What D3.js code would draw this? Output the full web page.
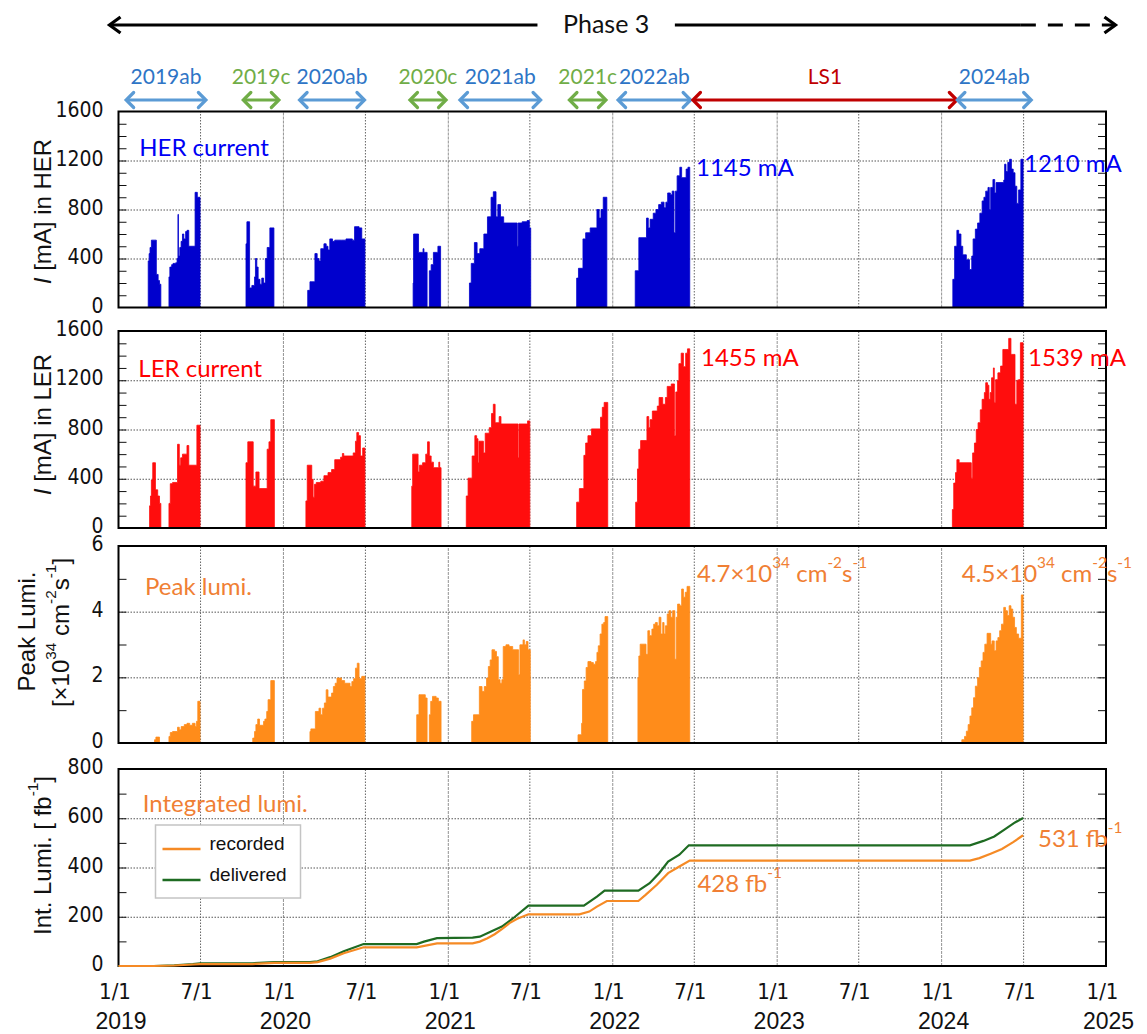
<!DOCTYPE html>
<html>
<head>
<meta charset="utf-8">
<script src="https://cdn.jsdelivr.net/npm/d3@7"></script>
<style>
  body { margin: 0; background: #fff; }
</style>
</head>
<body>
<div id="chart"></div>
<script>
(function () {

  /***** Data *****/
  // step series: [date, value], value holds until the next date
  var herData = [
    ["2019-01-25",0],
    ["2019-03-08",380],["2019-03-10",440],["2019-03-12",490],["2019-03-15",550],["2019-03-26",270],["2019-03-30",220],["2019-04-02",190],["2019-04-05",0],
    ["2019-04-23",250],["2019-04-25",330],["2019-04-29",350],["2019-05-02",360],["2019-05-08",365],["2019-05-11",400],["2019-05-13",760],["2019-05-14",420],["2019-05-17",490],["2019-05-20",540],["2019-05-23",600],["2019-05-26",560],["2019-05-30",620],["2019-06-02",630],["2019-06-06",500],["2019-06-20",940],["2019-06-25",900],["2019-07-01",0],
    ["2019-10-11",520],["2019-10-13",700],["2019-10-19",160],["2019-10-24",180],["2019-10-30",250],["2019-11-01",400],["2019-11-04",330],["2019-11-07",230],["2019-11-11",190],["2019-11-15",240],["2019-11-19",200],["2019-11-23",400],["2019-11-27",490],["2019-12-03",650],["2019-12-12",0],
    ["2020-02-25",140],["2020-03-01",210],["2020-03-12",440],["2020-03-17",400],["2020-03-21",380],["2020-03-25",480],["2020-04-01",520],["2020-04-06",500],["2020-04-10",470],["2020-04-14",560],["2020-04-20",540],["2020-04-25",550],["2020-05-10",550],["2020-05-20",560],["2020-06-03",550],["2020-06-08",660],["2020-06-18",650],["2020-06-24",560],["2020-07-01",0],
    ["2020-10-16",200],["2020-10-17",600],["2020-10-28",450],["2020-11-07",480],["2020-11-09",450],["2020-11-16",0],["2020-11-21",300],["2020-11-25",350],["2020-11-30",450],["2020-12-10",500],["2020-12-16",0],
    ["2021-02-18",200],["2021-02-22",360],["2021-03-01",530],["2021-03-07",440],["2021-03-13",480],["2021-03-22",600],["2021-03-30",740],["2021-04-07",900],["2021-04-12",945],["2021-04-18",740],["2021-04-22",840],["2021-04-28",740],["2021-05-05",690],["2021-06-04",500],["2021-06-06",690],["2021-06-15",700],["2021-06-26",710],["2021-07-01",650],["2021-07-04",0],
    ["2021-10-14",240],["2021-10-18",320],["2021-10-28",560],["2021-11-03",610],["2021-11-13",650],["2021-11-28",800],["2021-12-03",730],["2021-12-07",800],["2021-12-12",900],["2021-12-20",0],
    ["2022-02-21",300],["2022-03-01",570],["2022-03-18",730],["2022-03-22",650],["2022-03-26",720],["2022-04-02",770],["2022-04-08",800],["2022-04-14",840],["2022-04-20",860],["2022-04-26",815],["2022-04-30",860],["2022-05-04",935],["2022-05-10",920],["2022-05-14",950],["2022-05-18",610],["2022-05-21",950],["2022-05-25",1075],["2022-05-31",1145],["2022-06-04",1060],["2022-06-14",1130],["2022-06-18",1145],["2022-06-22",0],
    ["2024-01-27",230],["2024-01-31",500],["2024-02-05",630],["2024-02-09",600],["2024-02-14",500],["2024-02-18",430],["2024-02-26",390],["2024-03-04",310],["2024-03-09",420],["2024-03-12",560],["2024-03-17",640],["2024-03-22",690],["2024-03-27",770],["2024-04-01",870],["2024-04-05",900],["2024-04-09",950],["2024-04-14",980],["2024-04-17",800],["2024-04-20",980],["2024-04-25",1045],["2024-04-29",935],["2024-05-02",1020],["2024-05-19",1040],["2024-05-21",1170],["2024-05-24",1110],["2024-05-28",1185],["2024-06-01",1210],["2024-06-05",1130],["2024-06-09",1100],["2024-06-13",990],["2024-06-17",850],["2024-06-21",960],["2024-06-26",1210],["2024-07-01",0]
  ]

  var lerData = [
    ["2019-01-25",0],
    ["2019-03-11",180],["2019-03-13",260],["2019-03-15",390],["2019-03-18",530],["2019-03-24",310],["2019-03-29",260],["2019-04-02",200],["2019-04-05",0],
    ["2019-04-23",200],["2019-04-26",360],["2019-05-01",370],["2019-05-12",680],["2019-05-16",510],["2019-05-19",570],["2019-05-23",600],["2019-05-30",600],["2019-06-02",670],["2019-06-06",510],["2019-06-22",510],["2019-06-24",835],["2019-07-01",0],
    ["2019-10-11",530],["2019-10-15",700],["2019-10-27",340],["2019-11-02",455],["2019-11-09",320],["2019-11-27",640],["2019-12-01",700],["2019-12-05",880],["2019-12-13",0],
    ["2020-02-21",220],["2020-02-24",510],["2020-03-05",395],["2020-03-08",250],["2020-03-11",355],["2020-03-15",370],["2020-03-25",380],["2020-04-01",425],["2020-04-10",450],["2020-04-18",475],["2020-04-25",555],["2020-05-08",575],["2020-05-12",605],["2020-05-15",585],["2020-06-05",610],["2020-06-10",705],["2020-06-13",775],["2020-06-17",750],["2020-06-21",585],["2020-06-26",650],["2020-07-01",0],
    ["2020-10-13",340],["2020-10-15",600],["2020-10-27",455],["2020-10-30",510],["2020-11-06",530],["2020-11-13",600],["2020-11-17",700],["2020-11-21",585],["2020-11-25",535],["2020-11-30",490],["2020-12-12",535],["2020-12-14",490],["2020-12-17",0],
    ["2021-02-11",260],["2021-02-15",405],["2021-02-24",585],["2021-03-02",750],["2021-03-06",725],["2021-03-09",530],["2021-03-11",705],["2021-03-21",610],["2021-03-25",770],["2021-04-03",815],["2021-04-08",930],["2021-04-12",1005],["2021-04-16",855],["2021-04-25",905],["2021-04-29",845],["2021-06-06",570],["2021-06-08",845],["2021-06-27",870],["2021-07-02",0],
    ["2021-10-14",210],["2021-10-20",320],["2021-10-30",590],["2021-11-03",690],["2021-11-08",750],["2021-11-16",805],["2021-12-06",900],["2021-12-10",980],["2021-12-14",1020],["2021-12-22",0],
    ["2022-02-22",210],["2022-02-26",480],["2022-03-01",640],["2022-03-05",710],["2022-03-19",905],["2022-03-23",815],["2022-03-26",880],["2022-03-31",950],["2022-04-11",990],["2022-04-15",1060],["2022-04-23",1005],["2022-04-29",1060],["2022-05-03",1150],["2022-05-12",1170],["2022-05-19",750],["2022-05-22",1105],["2022-05-26",1195],["2022-05-29",1335],["2022-06-03",1420],["2022-06-08",1310],["2022-06-13",1420],["2022-06-17",1455],["2022-06-22",0],
    ["2024-01-26",150],["2024-01-29",365],["2024-02-02",450],["2024-02-05",555],["2024-02-10",530],["2024-03-08",405],["2024-03-11",610],["2024-03-15",690],["2024-03-19",800],["2024-03-23",855],["2024-03-28",960],["2024-04-01",1045],["2024-04-06",1100],["2024-04-09",1180],["2024-04-13",1160],["2024-04-16",1045],["2024-04-19",1100],["2024-04-22",1220],["2024-04-26",1300],["2024-04-28",1020],["2024-05-01",1205],["2024-05-06",1260],["2024-05-12",1315],["2024-05-17",1450],["2024-05-30",1540],["2024-06-04",1410],["2024-06-13",1005],["2024-06-17",1200],["2024-06-21",1205],["2024-06-25",1505],["2024-07-01",0]
  ]

  var peakData = [
    ["2019-01-25",0],
    ["2019-03-22",0.1],["2019-03-25",0.18],["2019-04-02",0],
    ["2019-04-23",0.2],["2019-04-26",0.32],["2019-05-01",0.35],["2019-05-12",0.48],["2019-05-16",0.4],["2019-05-20",0.5],["2019-05-27",0.56],["2019-06-02",0.6],["2019-06-08",0.54],["2019-06-14",0.6],["2019-06-20",0.5],["2019-06-23",0.66],["2019-06-26",1.27],["2019-07-01",0],
    ["2019-10-26",0.15],["2019-10-30",0.35],["2019-11-02",0.56],["2019-11-06",0.73],["2019-11-10",0.54],["2019-11-19",0.66],["2019-11-22",0.73],["2019-11-26",0.96],["2019-11-29",1.32],["2019-12-05",1.9],["2019-12-13",0],
    ["2020-03-01",0.35],["2020-03-03",0.43],["2020-03-13",0.96],["2020-03-21",1.06],["2020-03-25",0.86],["2020-03-29",1.06],["2020-04-02",1.22],["2020-04-06",1.62],["2020-04-10",1.4],["2020-04-18",1.52],["2020-04-22",1.72],["2020-04-26",1.82],["2020-04-30",1.98],["2020-05-10",1.9],["2020-05-17",1.82],["2020-05-29",1.72],["2020-06-02",1.87],["2020-06-06",1.96],["2020-06-10",2.28],["2020-06-14",2.43],["2020-06-18",1.96],["2020-06-24",2.03],["2020-07-01",0],
    ["2020-10-24",0.86],["2020-10-29",1.47],["2020-11-12",1.37],["2020-11-16",0],["2020-11-21",0.86],["2020-11-24",1.27],["2020-11-28",1.42],["2020-12-06",1.37],["2020-12-11",1.27],["2020-12-17",0],
    ["2021-02-23",0.66],["2021-02-27",0.86],["2021-03-12",1.72],["2021-03-18",1.57],["2021-03-23",1.72],["2021-03-28",1.98],["2021-04-01",2.33],["2021-04-05",2.53],["2021-04-09",2.84],["2021-04-15",2.79],["2021-04-19",2.63],["2021-04-23",1.93],["2021-04-27",1.82],["2021-05-01",1.93],["2021-05-04",2.94],["2021-05-10",2.99],["2021-05-17",2.94],["2021-05-25",2.84],["2021-06-07",2.08],["2021-06-10",2.99],["2021-06-17",3.14],["2021-06-20",2.99],["2021-06-24",3.09],["2021-06-28",2.84],["2021-07-03",0],
    ["2021-10-17",0.25],["2021-10-25",0.6],["2021-10-27",1.63],["2021-10-31",1.89],["2021-11-04",2.3],["2021-11-08",2.48],["2021-11-15",2.45],["2021-11-20",2.4],["2021-11-25",2.48],["2021-11-28",2.76],["2021-12-01",2.96],["2021-12-05",3.32],["2021-12-09",3.62],["2021-12-13",3.67],["2021-12-16",3.85],["2021-12-22",0],
    ["2022-02-27",1.99],["2022-03-01",2.65],["2022-03-04",3.01],["2022-03-17",2.7],["2022-03-21",3.42],["2022-03-25",3.27],["2022-03-30",3.47],["2022-04-03",3.62],["2022-04-07",3.67],["2022-04-11",3.57],["2022-04-15",3.83],["2022-04-19",3.32],["2022-04-23",3.67],["2022-04-26",3.32],["2022-04-29",3.57],["2022-05-03",3.93],["2022-05-07",4.03],["2022-05-11",3.83],["2022-05-15",4.03],["2022-05-20",2.55],["2022-05-23",3.83],["2022-05-26",4.23],["2022-05-31",4.18],["2022-06-04",4.69],["2022-06-08",4.44],["2022-06-12",4.59],["2022-06-16",4.77],["2022-06-22",0],
    ["2024-02-16",0.1],["2024-02-22",0.2],["2024-02-26",0.36],["2024-03-01",0.56],["2024-03-05",0.82],["2024-03-09",1.07],["2024-03-13",1.38],["2024-03-17",1.73],["2024-03-22",1.99],["2024-03-26",2.3],["2024-03-30",2.5],["2024-04-03",2.76],["2024-04-07",3.01],["2024-04-12",3.34],["2024-04-20",3.01],["2024-04-23",3.11],["2024-04-28",2.81],["2024-05-02",3.11],["2024-05-06",3.21],["2024-05-10",3.42],["2024-05-14",3.62],["2024-05-19",4.13],["2024-05-23",4.03],["2024-05-27",3.88],["2024-05-31",4.18],["2024-06-04",4.08],["2024-06-08",3.83],["2024-06-12",3.52],["2024-06-16",3.32],["2024-06-21",3.19],["2024-06-27",4.51],["2024-07-01",0]
  ]

  var recordedData = [
    ["2019-01-01",0],["2019-03-20",0],["2019-05-05",2],["2019-06-15",6],["2019-07-01",8],["2019-10-25",8],["2019-12-13",13],
    ["2020-03-01",13],["2020-03-18",16],["2020-04-15",30],["2020-05-15",52],["2020-06-28",76],["2020-10-24",76],["2020-12-08",92],
    ["2021-02-25",92],["2021-03-13",99],["2021-03-30",113],["2021-04-15",129],["2021-05-01",150],["2021-05-18",174],["2021-06-03",191],["2021-06-29",210],
    ["2021-10-20",210],["2021-11-11",221],["2021-11-28",241],["2021-12-20",264],
    ["2022-02-28",264],["2022-03-16",289],["2022-04-10",330],["2022-05-05",377],["2022-05-30",404],["2022-06-22",428],
    ["2024-03-05",428],["2024-03-26",438],["2024-04-20",456],["2024-05-15",475],["2024-06-09",503],["2024-07-01",531]
  ]

  var deliveredData = [
    ["2019-01-01",0],["2019-03-20",0],["2019-05-05",3],["2019-06-15",8],["2019-07-01",11],["2019-10-25",11],["2019-12-13",16],
    ["2020-03-01",16],["2020-03-18",19],["2020-04-15",36],["2020-05-15",60],["2020-06-28",89],["2020-10-24",89],["2020-11-09",99],["2020-12-08",113],
    ["2021-02-25",115],["2021-03-13",119],["2021-04-07",140],["2021-05-01",160],["2021-05-26",194],["2021-06-29",245],
    ["2021-10-30",245],["2021-11-28",282],["2021-12-15",306],
    ["2022-02-28",306],["2022-03-25",336],["2022-04-15",377],["2022-05-05",424],["2022-05-30",452],["2022-06-20",490],
    ["2024-03-05",490],["2024-04-04",508],["2024-04-28",526],["2024-05-23",557],["2024-06-13",583],["2024-07-01",601]
  ]

  // run periods shown above the panels
  var periodLabels = ["2019ab", "2019c", "2020ab", "2020c", "2021ab", "2021c", "2022ab", "LS1", "2024ab"]
  var periodStarts = ["2019-01-18", "2019-10-05", "2020-02-07", "2020-10-09", "2021-01-28", "2021-09-28", "2022-01-14", "2022-06-29", "2024-02-06"]
  var periodEnds   = ["2019-07-14", "2019-12-23", "2020-06-30", "2020-12-28", "2021-07-26", "2021-12-18", "2022-06-24", "2024-02-05", "2024-07-19"]
  var periodKinds  = ["ab", "c", "ab", "c", "ab", "c", "ab", "ls", "ab"]

  var phaseLabel = "Phase 3"
  var phaseDates = ["2018-12-12", "2021-07-19", "2022-05-20", "2024-06-26", "2025-01-22"]

  var halfYearLabels = ["1/1", "7/1"]

  /***** Configuration *****/
  var parse = d3.timeParse("%Y-%m-%d")
  var width = 1147
  var height = 1034
  var left = 118.5
  var right = 1106

  var fontNum = "'Liberation Sans Narrow','DejaVu Sans Condensed','Liberation Sans',Arial,sans-serif"
  var fontTitle = "'Liberation Sans',Arial,sans-serif"
  var fontNote = "Lato,'Open Sans',sans-serif"

  var kindColor = { ab: "#5b9bd5", c: "#70ad47", ls: "#c00000" }
  var kindText = { ab: "#2e75c6", c: "#70ad47", ls: "#c00000" }

  var x = d3.scaleTime()
    .domain([parse("2019-01-01"), parse("2025-01-01")])
    .range([left, right])

  var panels = [
    { top: 111.5, bottom: 307.5, max: 1600, major: 400, minor: 100, data: herData, color: "#0000cd" },
    { top: 331, bottom: 528, max: 1600, major: 400, minor: 100, data: lerData, color: "#ff0d0d" },
    { top: 546, bottom: 743, max: 6, major: 2, minor: 1, data: peakData, color: "#ff8c1a" },
    { top: 769, bottom: 966, max: 800, major: 200, minor: 100 }
  ]

  var svg = d3.select("#chart")
    .append("svg")
    .attr("width", width)
    .attr("height", height)

  var halfYears = d3.timeMonth.every(6).range(parse("2019-01-01"), parse("2025-01-02"))
  var innerHalf = halfYears.slice(1, -1)

  /***** Panels *****/
  panels.forEach(function (p) {
    var y = d3.scaleLinear().domain([0, p.max]).range([p.bottom, p.top])
    p.y = y
    var g = svg.append("g")

    // vertical grid
    g.append("g")
      .attr("transform", "translate(0," + p.bottom + ")")
      .call(d3.axisBottom(x).tickValues(innerHalf).tickSize(-(p.bottom - p.top)).tickFormat(""))
      .call(function (s) { s.select(".domain").remove() })
      .selectAll("line")
      .attr("stroke", function (d) { return d.getMonth() === 0 ? "#777" : "#666" })
      .attr("stroke-width", function (d) { return d.getMonth() === 0 ? 0.8 : 1 })
      .attr("stroke-dasharray", function (d) { return d.getMonth() === 0 ? "3,1" : "1.5,1.5" })

    // horizontal grid
    g.append("g")
      .attr("transform", "translate(" + left + ",0)")
      .call(d3.axisRight(y).tickValues(d3.range(p.major, p.max, p.major)).tickSize(right - left).tickFormat(""))
      .call(function (s) { s.select(".domain").remove() })
      .selectAll("line")
      .attr("stroke", "#555")
      .attr("stroke-dasharray", "1.5,1.5")

    // series
    if (p.data) {
      var area = d3.area()
        .curve(d3.curveStepAfter)
        .x(function (d) { return x(parse(d[0])) })
        .y0(y(0))
        .y1(function (d) { return y(d[1]) })
      g.append("path")
        .datum(p.data)
        .attr("d", area)
        .attr("fill", p.color)
        .attr("stroke", p.color)
        .attr("stroke-width", 0.8)
    }

    // minor ticks on both sides, pointing inward
    var minors = d3.range(p.minor, p.max, p.minor)
    g.append("g")
      .attr("transform", "translate(" + left + ",0)")
      .call(d3.axisRight(y).tickValues(minors).tickSize(8).tickFormat(""))
      .call(function (s) { s.select(".domain").remove() })
      .selectAll("line").attr("stroke", "#111")
    g.append("g")
      .attr("transform", "translate(" + right + ",0)")
      .call(d3.axisLeft(y).tickValues(minors).tickSize(8).tickFormat(""))
      .call(function (s) { s.select(".domain").remove() })
      .selectAll("line").attr("stroke", "#111")

    // tick labels
    g.append("g")
      .attr("transform", "translate(" + left + ",0)")
      .call(d3.axisLeft(y).tickValues(d3.range(0, p.max + p.major / 2, p.major))
        .tickSize(0).tickPadding(15).tickFormat(d3.format("d")))
      .call(function (s) { s.select(".domain").remove() })
      .selectAll("text")
      .attr("dy", "0.22em")
      .attr("font-family", fontNum)
      .attr("font-size", 21)
      .attr("fill", "#111")

    // frame
    g.append("rect")
      .attr("x", left)
      .attr("y", p.top)
      .attr("width", right - left)
      .attr("height", p.bottom - p.top)
      .attr("fill", "none")
      .attr("stroke", "#000")
      .attr("stroke-width", 2)
  })

  /***** Integrated luminosity lines *****/
  var intPanel = panels[3]
  var line = d3.line()
    .x(function (d) { return x(parse(d[0])) })
    .y(function (d) { return intPanel.y(d[1]) })
  var intSeries = [
    { name: "delivered", data: deliveredData, color: "#1e6b22" },
    { name: "recorded", data: recordedData, color: "#f58a25" }
  ]
  svg.append("g").selectAll("path")
    .data(intSeries)
    .join("path")
    .attr("d", function (d) { return line(d.data) })
    .attr("fill", "none")
    .attr("stroke", function (d) { return d.color })
    .attr("stroke-width", 2.2)

  // legend
  var lg = svg.append("g").attr("transform", "translate(" + (left + 37) + "," + (intPanel.top + 56) + ")")
  lg.append("rect")
    .attr("width", 145).attr("height", 73)
    .attr("fill", "#fff").attr("stroke", "#c4c4c4").attr("stroke-width", 1.5)
  intSeries.slice().reverse().forEach(function (s, i) {
    lg.append("line")
      .attr("x1", 7).attr("x2", 45)
      .attr("y1", 24 + i * 31).attr("y2", 24 + i * 31)
      .attr("stroke", s.color).attr("stroke-width", 2.5)
    lg.append("text")
      .attr("x", 54).attr("y", 18 + i * 31)
      .attr("dominant-baseline", "central")
      .attr("font-family", fontTitle)
      .attr("font-size", 19)
      .attr("fill", "#111")
      .text(s.name)
  })

  /***** X axis labels *****/
  var bottomAxis = svg.append("g")
    .attr("transform", "translate(-4," + intPanel.bottom + ")")
    .call(d3.axisBottom(x).tickValues(halfYears).tickSize(0).tickPadding(17)
      .tickFormat(function (d) { return halfYearLabels[d.getMonth() === 0 ? 0 : 1] }))
  bottomAxis.select(".domain").remove()
  bottomAxis.selectAll("text").attr("font-family", fontNum).attr("font-size", 22).attr("fill", "#111")

  var yearAxis = svg.append("g")
    .attr("transform", "translate(2," + intPanel.bottom + ")")
    .call(d3.axisBottom(x).ticks(d3.timeYear.every(1)).tickSize(0).tickPadding(47).tickFormat(d3.timeFormat("%Y")))
  yearAxis.select(".domain").remove()
  yearAxis.selectAll("text").attr("font-family", fontTitle).attr("font-size", 23).attr("fill", "#111")

  /***** Y titles *****/
  function yTitle(cx, cy, build) {
    var t = svg.append("text")
      .attr("transform", "translate(" + cx + "," + cy + ") rotate(-90)")
      .attr("text-anchor", "middle")
      .attr("dominant-baseline", "central")
      .attr("font-family", fontTitle)
      .attr("font-size", 24)
      .attr("fill", "#111")
    build(t)
  }
  function midOf(p) { return (p.top + p.bottom) / 2 }

  // text with superscripts
  function rich(t, parts, size) {
    var shifted = 0
    parts.forEach(function (p) {
      var sup = typeof p !== "string"
      var ts = t.append("tspan").text(sup ? p.sup : p)
      var target = sup ? -size * 0.42 : 0
      if (target !== shifted) {
        ts.attr("dy", target - shifted)
        shifted = target
      }
      if (sup) ts.attr("font-size", size * 0.64)
    })
  }

  yTitle(42, midOf(panels[0]) + 2, function (t) {
    t.append("tspan").attr("font-style", "italic").text("I")
    t.append("tspan").text(" [mA] in HER")
  })
  yTitle(42, midOf(panels[1]) - 5, function (t) {
    t.append("tspan").attr("font-style", "italic").text("I")
    t.append("tspan").text(" [mA] in LER")
  })
  yTitle(26, midOf(panels[2]) - 13, function (t) { t.text("Peak Lumi.") })
  yTitle(60, midOf(panels[2]) - 12, function (t) {
    rich(t, ["[\u00d710", { sup: "34" }, " cm", { sup: "-2" }, "s", { sup: "-1" }, "]"], 24)
  })
  yTitle(42, midOf(panels[3]) - 12, function (t) {
    rich(t, ["Int. Lumi. [ fb", { sup: "-1" }, "]"], 24)
  })

  /***** Annotations inside the panels *****/
  var notes = [
    { panel: 0, date: "2019-02-16", value: 1317, parts: ["HER current"], color: "#0000f5" },
    { panel: 0, date: "2022-07-06", value: 1154, parts: ["1145 mA"], color: "#0000f5" },
    { panel: 0, date: "2024-07-03", value: 1189, parts: ["1210 mA"], color: "#0000f5" },
    { panel: 1, date: "2019-02-14", value: 1309, parts: ["LER current"], color: "#ff0000" },
    { panel: 1, date: "2022-07-17", value: 1399, parts: ["1455 mA"], color: "#ff0000" },
    { panel: 1, date: "2024-07-12", value: 1399, parts: ["1539 mA"], color: "#ff0000" },
    { panel: 2, date: "2019-03-01", value: 4.8, parts: ["Peak lumi."], color: "#f07f34" },
    { panel: 2, date: "2022-07-08", value: 5.2, parts: ["4.7\u00d710", { sup: "34" }, " cm", { sup: "-2" }, "s", { sup: "-1" }], color: "#f07f34" },
    { panel: 2, date: "2024-02-16", value: 5.2, parts: ["4.5\u00d710", { sup: "34" }, " cm", { sup: "-2" }, "s", { sup: "-1" }], color: "#f07f34" },
    { panel: 3, date: "2019-02-24", value: 667, parts: ["Integrated lumi."], color: "#f07f34" },
    { panel: 3, date: "2022-07-09", value: 341, parts: ["428 fb", { sup: "-1" }], color: "#f07f34" },
    { panel: 3, date: "2024-08-03", value: 522, parts: ["531 fb", { sup: "-1" }], color: "#f07f34" }
  ]
  notes.forEach(function (n) {
    var t = svg.append("text")
      .attr("x", x(parse(n.date)))
      .attr("y", panels[n.panel].y(n.value))
      .attr("dominant-baseline", "central")
      .attr("font-family", fontNote)
      .attr("font-size", 24)
      .attr("fill", n.color)
    rich(t, n.parts, 24)
  })

  /***** Run periods *****/
  var periodY = 100
  var pg = svg.append("g")
  periodLabels.forEach(function (label, i) {
    var xa = x(parse(periodStarts[i]))
    var xb = x(parse(periodEnds[i]))
    var col = kindColor[periodKinds[i]]
    var h = 7.5
    pg.append("line")
      .attr("x1", xa + 1).attr("x2", xb - 1)
      .attr("y1", periodY).attr("y2", periodY)
      .attr("stroke", col).attr("stroke-width", 3.2)
    pg.append("path")
      .attr("d", "M" + (xa + h) + "," + (periodY - h) + "L" + xa + "," + periodY + "L" + (xa + h) + "," + (periodY + h)
        + "M" + (xb - h) + "," + (periodY - h) + "L" + xb + "," + periodY + "L" + (xb - h) + "," + (periodY + h))
      .attr("fill", "none").attr("stroke", col).attr("stroke-width", 3.2)
      .attr("stroke-linejoin", "miter").attr("stroke-linecap", "round")
    pg.append("text")
      .attr("x", (xa + xb) / 2)
      .attr("y", 75)
      .attr("text-anchor", "middle")
      .attr("dominant-baseline", "central")
      .attr("font-family", fontNote)
      .attr("font-size", 21)
      .attr("fill", kindText[periodKinds[i]])
      .text(label)
  })

  /***** Phase 3 arrow *****/
  var phY = 25
  var px = phaseDates.map(function (d) { return x(parse(d)) })
  var ph = svg.append("g").attr("stroke", "#000").attr("stroke-width", 3.2).attr("fill", "none")
  ph.append("line").attr("x1", px[0] + 1).attr("x2", px[1]).attr("y1", phY).attr("y2", phY)
  ph.append("line").attr("x1", px[2]).attr("x2", px[3]).attr("y1", phY).attr("y2", phY)
  ph.append("line").attr("x1", px[3]).attr("x2", px[4] - 2).attr("y1", phY).attr("y2", phY)
    .attr("stroke-dasharray", "15,12")
  ph.append("path")
    .attr("d", "M" + (px[0] + 11) + "," + (phY - 8) + "L" + px[0] + "," + phY + "L" + (px[0] + 11) + "," + (phY + 8)
      + "M" + (px[4] - 11) + "," + (phY - 8) + "L" + px[4] + "," + phY + "L" + (px[4] - 11) + "," + (phY + 8))
  svg.append("text")
    .attr("x", (px[1] + px[2]) / 2)
    .attr("y", phY - 2)
    .attr("text-anchor", "middle")
    .attr("dominant-baseline", "central")
    .attr("font-family", fontNote)
    .attr("font-size", 25)
    .attr("fill", "#111")
    .text(phaseLabel)

})()
</script>
</body>
</html>
